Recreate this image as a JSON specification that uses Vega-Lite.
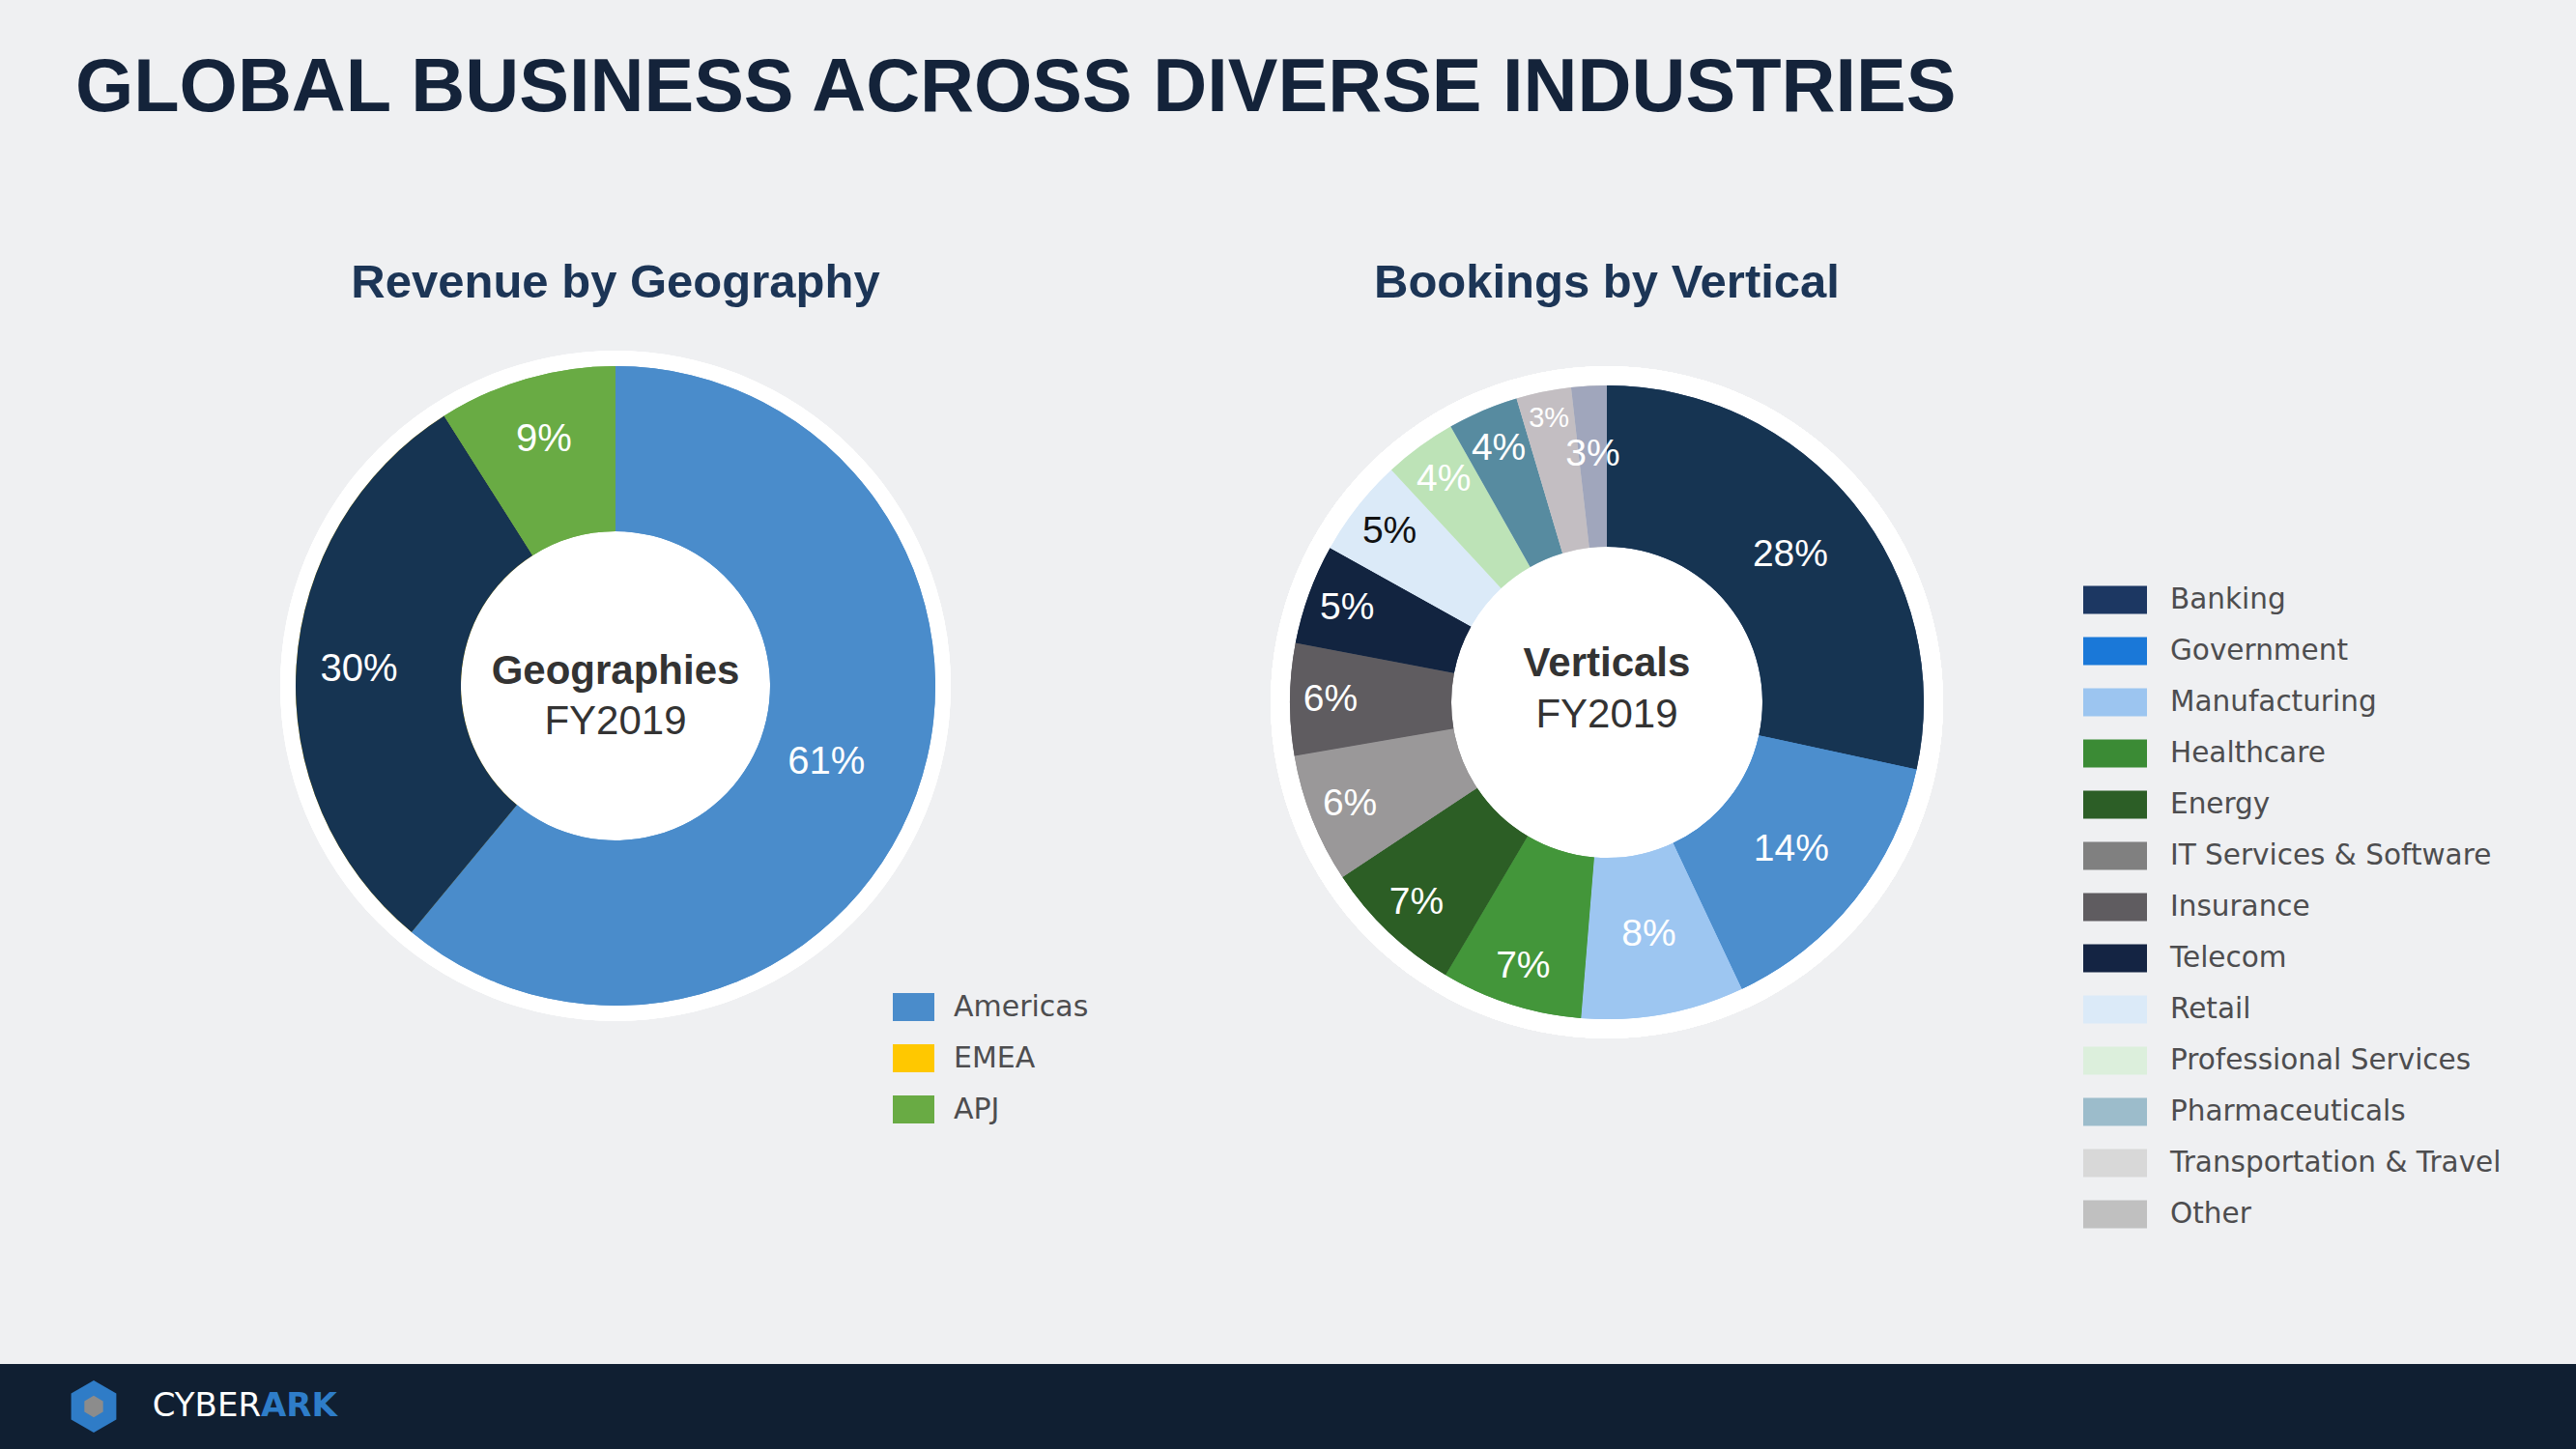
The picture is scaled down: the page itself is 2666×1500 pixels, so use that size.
{
  "$schema": "https://vega.github.io/schema/vega-lite/v6.json",
  "padding": {"top": 52, "left": 0, "right": 0, "bottom": 0},
  "background": "#eff0f2",
  "title": {
    "text": "GLOBAL BUSINESS ACROSS DIVERSE INDUSTRIES",
    "anchor": "start",
    "frame": "group",
    "dx": 78,
    "font": "Liberation Sans",
    "fontSize": 77.5,
    "fontWeight": "bold",
    "color": "#14233a",
    "offset": 138
  },
  "datasets": {
    "geo": [
      {"region": "Americas", "share": 61, "idx": 1, "label": "61%"},
      {"region": "EMEA", "share": 30, "idx": 2, "label": "30%"},
      {"region": "APJ", "share": 9, "idx": 3, "label": "9%"}
    ],
    "vert": [
      {"vertical": "Banking", "share": 28.4, "idx": 1, "label": "28%"},
      {"vertical": "Government", "share": 14.6, "idx": 2, "label": "14%"},
      {"vertical": "Manufacturing", "share": 8.3, "idx": 3, "label": "8%"},
      {"vertical": "Healthcare", "share": 7.2, "idx": 4, "label": "7%"},
      {"vertical": "Energy", "share": 7.2, "idx": 5, "label": "7%"},
      {"vertical": "IT Services & Software", "share": 6.6, "idx": 6, "label": "6%"},
      {"vertical": "Insurance", "share": 5.7, "idx": 7, "label": "6%"},
      {"vertical": "Telecom", "share": 5.1, "idx": 8, "label": "5%"},
      {"vertical": "Retail", "share": 5.0, "idx": 9, "label": "5%"},
      {"vertical": "Professional Services", "share": 3.7, "idx": 10, "label": "4%"},
      {"vertical": "Pharmaceuticals", "share": 3.6, "idx": 11, "label": "4%"},
      {"vertical": "Transportation & Travel", "share": 2.8, "idx": 12, "label": "3%"},
      {"vertical": "Other", "share": 1.8, "idx": 13, "label": "3%"}
    ],
    "centerGeo": [{"line1": "Geographies", "line2": "FY2019"}],
    "centerVert": [{"line1": "Verticals", "line2": "FY2019"}],
    "brand": [{"a": "CYBER", "b": "ARK", "blank": ""}]
  },
  "spacing": 140,
  "vconcat": [
    {
      "spacing": 0,
      "hconcat": [
        {
          "width": 1274,
          "height": 756,
          "title": {"text": "Revenue by Geography", "font": "Liberation Sans", "fontSize": 49, "fontWeight": "bold", "color": "#1c3556", "anchor": "middle", "offset": 14},
          "data": {"name": "geo"},
          "layer": [
            {"mark": {"type": "arc", "radius": 347, "theta": 0, "theta2": 6.2832, "color": "#ffffff"}, "encoding": {}},
            {
              "mark": {"type": "arc", "radius": 331, "innerRadius": 160},
              "encoding": {
                "theta": {"field": "share", "type": "quantitative", "stack": true},
                "order": {"field": "idx"},
                "color": {
                  "field": "region", "type": "nominal",
                  "scale": {"domain": ["Americas", "EMEA", "APJ"], "range": ["#4a8ccb", "#ffc800", "#69ab44"]},
                  "legend": {
                    "title": null, "orient": "none", "legendX": 924, "legendY": 689,
                    "symbolType": "M-1,-0.674H1V0.674H-1Z", "symbolSize": 1849, "symbolStrokeWidth": 0,
                    "labelFont": "DejaVu Sans", "labelFontSize": 30, "labelColor": "#4d4d4f",
                    "rowPadding": 16, "labelOffset": 20, "padding": 0, "labelLimit": 600
                  }
                }
              }
            },
            {
              "mark": {"type": "arc", "radius": 331, "innerRadius": 160},
              "encoding": {
                "theta": {"field": "share", "type": "quantitative", "stack": true},
                "order": {"field": "idx"},
                "color": {
                  "field": "region", "type": "nominal",
                  "scale": {"domain": ["Americas", "EMEA", "APJ"], "range": ["#4a8ccb", "#163452", "#69ab44"]},
                  "legend": null
                }
              }
            },
            {
              "mark": {"type": "text", "font": "Liberation Sans", "fontSize": 40, "color": "#ffffff", "align": "center", "baseline": "middle"},
              "encoding": {
                "theta": {"field": "share", "type": "quantitative", "stack": true},
                "order": {"field": "idx"},
                "radius": {"value": {"expr": "datum.share > 40 ? 232 : 266"}},
                "text": {"field": "label"}
              }
            },
            {
              "data": {"name": "centerGeo"},
              "mark": {"type": "text", "font": "Liberation Sans", "fontSize": 42, "fontWeight": "bold", "color": "#333333", "align": "center", "baseline": "middle", "dy": -15},
              "encoding": {"text": {"field": "line1"}}
            },
            {
              "data": {"name": "centerGeo"},
              "mark": {"type": "text", "font": "Liberation Sans", "fontSize": 42, "color": "#333333", "align": "center", "baseline": "middle", "dy": 37},
              "encoding": {"text": {"field": "line2"}}
            }
          ],
          "resolve": {"scale": {"color": "independent"}}
        },
        {
          "width": 778,
          "height": 790,
          "title": {"text": "Bookings by Vertical", "font": "Liberation Sans", "fontSize": 49, "fontWeight": "bold", "color": "#1c3556", "anchor": "middle", "offset": 14},
          "data": {"name": "vert"},
          "layer": [
            {"mark": {"type": "arc", "radius": 348, "theta": 0, "theta2": 6.2832, "color": "#ffffff"}, "encoding": {}},
            {
              "mark": {"type": "arc", "radius": 328, "innerRadius": 161},
              "encoding": {
                "theta": {"field": "share", "type": "quantitative", "stack": true},
                "order": {"field": "idx"},
                "color": {
                  "field": "vertical", "type": "nominal",
                  "scale": {
                    "domain": ["Banking", "Government", "Manufacturing", "Healthcare", "Energy", "IT Services & Software", "Insurance", "Telecom", "Retail", "Professional Services", "Pharmaceuticals", "Transportation & Travel", "Other"],
                    "range": ["#1c3762", "#1a78d8", "#9cc5f0", "#3b8b35", "#2c5e26", "#808080", "#5f5c60", "#142443", "#dbeaf8", "#dcefdc", "#9cbccb", "#d8d8d8", "#c0c0c0"]
                  },
                  "legend": {
                    "title": null, "orient": "none", "legendX": 882, "legendY": 256,
                    "symbolType": "M-1,-0.44H1V0.44H-1Z", "symbolSize": 4356, "symbolStrokeWidth": 0,
                    "labelFont": "DejaVu Sans", "labelFontSize": 29.5, "labelColor": "#4d4d4f",
                    "rowPadding": 5, "labelOffset": 24, "padding": 0, "labelLimit": 600
                  }
                }
              }
            },
            {
              "mark": {"type": "arc", "radius": 328, "innerRadius": 161},
              "encoding": {
                "theta": {"field": "share", "type": "quantitative", "stack": true},
                "order": {"field": "idx"},
                "color": {
                  "field": "vertical", "type": "nominal",
                  "scale": {
                    "domain": ["Banking", "Government", "Manufacturing", "Healthcare", "Energy", "IT Services & Software", "Insurance", "Telecom", "Retail", "Professional Services", "Pharmaceuticals", "Transportation & Travel", "Other"],
                    "range": ["#163452", "#4c8ecd", "#9dc6f1", "#43963a", "#2c5e25", "#9a9899", "#5f5c60", "#122440", "#dbeaf8", "#bde3b7", "#578ba0", "#c3bec2", "#a0a6bc"]
                  },
                  "legend": null
                }
              }
            },
            {
              "mark": {"type": "text", "font": "Liberation Sans", "align": "center", "baseline": "middle"},
              "encoding": {
                "theta": {"field": "share", "type": "quantitative", "stack": true},
                "order": {"field": "idx"},
                "radius": {"value": {"expr": "datum.vertical === 'Transportation & Travel' ? 300 : datum.vertical === 'Other' ? 257 : datum.share > 8 ? 244 : 286"}},
                "text": {"field": "label"},
                "size": {"condition": {"test": "datum.vertical === 'Transportation & Travel'", "value": 29}, "value": 39},
                "color": {"condition": {"test": "datum.vertical === 'Retail'", "value": "#111111"}, "value": "#ffffff"}
              }
            },
            {
              "data": {"name": "centerVert"},
              "mark": {"type": "text", "font": "Liberation Sans", "fontSize": 42, "fontWeight": "bold", "color": "#333333", "align": "center", "baseline": "middle", "dy": -40},
              "encoding": {"text": {"field": "line1"}}
            },
            {
              "data": {"name": "centerVert"},
              "mark": {"type": "text", "font": "Liberation Sans", "fontSize": 42, "color": "#333333", "align": "center", "baseline": "middle", "dy": 13},
              "encoding": {"text": {"field": "line2"}}
            }
          ],
          "resolve": {"scale": {"color": "independent"}}
        }
      ]
    },
    {
      "spacing": 0,
      "bounds": "flush",
      "hconcat": [
        {
          "width": 194, "height": 88,
          "view": {"fill": "#101f32", "stroke": null},
          "data": {"name": "brand"},
          "layer": [
            {"mark": {"type": "point", "shape": "M0,-1L0.866,-0.5L0.866,0.5L0,1L-0.866,0.5L-0.866,-0.5Z", "filled": true, "size": 2916, "color": "#2f7cc7", "opacity": 1}, "encoding": {}},
            {"mark": {"type": "point", "shape": "M0,-1L0.866,-0.5L0.866,0.5L0,1L-0.866,0.5L-0.866,-0.5Z", "filled": true, "size": 500, "color": "#8c8c8c", "opacity": 1}, "encoding": {}}
          ]
        },
        {
          "width": 156, "height": 88,
          "view": {"fill": "#101f32", "stroke": null},
          "data": {"name": "brand"},
          "layer": [
            {"mark": {"type": "text", "font": "DejaVu Sans", "fontSize": 34, "color": "#ffffff", "align": "right", "baseline": "middle", "dx": -2}, "encoding": {"text": {"field": "a"}}},
            {"mark": {"type": "text", "font": "DejaVu Sans", "fontWeight": "bold", "fontSize": 34, "color": "#2e7dc9", "align": "left", "baseline": "middle", "dx": -2}, "encoding": {"text": {"field": "b"}}}
          ]
        },
        {
          "width": 2316, "height": 88,
          "view": {"fill": "#101f32", "stroke": null},
          "data": {"name": "brand"},
          "mark": {"type": "text"},
          "encoding": {"text": {"field": "blank"}}
        }
      ]
    }
  ],
  "config": {
    "view": {"stroke": null},
    "legend": {"padding": 0}
  }
}
